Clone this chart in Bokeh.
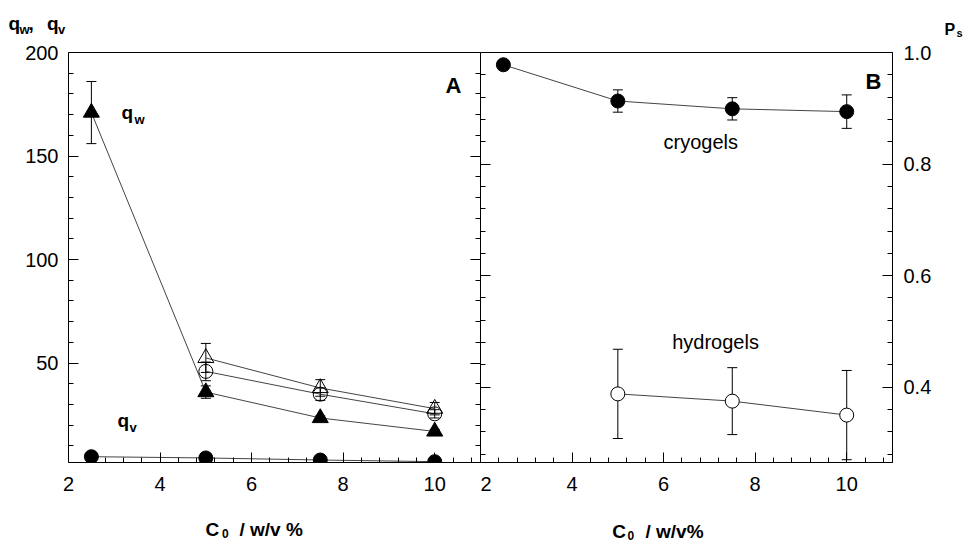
import numpy as np
from bokeh.plotting import figure
from bokeh.layouts import row, column
from bokeh.models import (Range1d, LinearAxis, FixedTicker, Whisker, TeeHead,
                          ColumnDataSource, Label, PrintfTickFormatter)
from bokeh.embed import file_html
from bokeh.resources import INLINE

# ---------------- data ----------------
x_all = [2.5, 5, 7.5, 10]
x_hi = [5, 7.5, 10]

# Panel A
qw_filled = [171, 36, 23.5, 17]
qw_filled_err = [15, 3, 1, 1]
qw_open_tri = [52.5, 38, 28]
qw_open_tri_err = [7, 4, 3]
qw_open_circ = [46, 35, 25.5]
qw_open_circ_err = [4.5, 3, 2]
qv_filled = [4.8, 4.2, 3.2, 2.4]

# Panel B
ps_cryo = [0.978, 0.913, 0.899, 0.894]
ps_cryo_err = [0.0, 0.02, 0.02, 0.03]
ps_hydro = [0.388, 0.375, 0.350]
ps_hydro_err = [0.08, 0.06, 0.08]

x_major = [2, 4, 6, 8, 10]
ya_major = [50, 100, 150, 200]
yb_major = [0.4, 0.6, 0.8, 1.0]

FONT = "Liberation Sans"
LINE = "#444444"

# ---------------- geometry (page pixels) ----------------
W = 965
XA0, XB0, FW = 68, 480, 412
FTOP, FBOT = 52, 462
FH = FBOT - FTOP
TOP_H = 40          # strip with the y-axis titles
MID_BOT = 504       # bottom of the panel row
BOT_H = 542 - MID_BOT
MID_H = MID_BOT - TOP_H

def ax(px):
    return 2 + (px - XA0) * 9 / FW

def ay(py):
    return 2 + (FBOT - py) * 198 / FH

def bx(px):
    return 2 + (px - XB0) * 9 / FW

def by(py):
    return 0.265 + (FBOT - py) * 0.735 / FH

def style_axis(a, labels=True, ticks=None):
    a.axis_line_color = "black"
    a.major_tick_line_color = "black"
    a.minor_tick_line_color = "black"
    a.major_tick_in = 10
    a.major_tick_out = 0
    a.minor_tick_in = 5
    a.minor_tick_out = 0
    if labels:
        a.major_label_text_font = FONT
        a.major_label_text_font_size = "20px"
        a.major_label_text_color = "black"
    else:
        a.major_label_overrides = {t: "" for t in ticks}
        a.major_label_standoff = 0

x_minor = [round(v, 2) for v in np.arange(2.4, 11.0, 0.4)]
ya_minor = [v for v in range(10, 200, 10) if v % 50 != 0]
yb_minor = [round(v, 2) for v in np.arange(0.28, 1.0, 0.04)]

def add_label(p, x, y, text, size, bold=True, align="left"):
    p.add_layout(Label(x=x, y=y, text=text, text_font=FONT,
                       text_font_size=size,
                       text_font_style="bold" if bold else "normal",
                       text_align=align, text_baseline="alphabetic",
                       text_color="black"))

def add_whisker(p, xs, ys, errs, cap=10):
    src = ColumnDataSource(dict(x=xs, upper=[y + e for y, e in zip(ys, errs)],
                                lower=[y - e for y, e in zip(ys, errs)]))
    w = Whisker(source=src, base="x", upper="upper", lower="lower",
                dimension="height", line_color="black", line_width=1,
                upper_head=TeeHead(size=cap, line_color="black", line_width=1),
                lower_head=TeeHead(size=cap, line_color="black", line_width=1))
    p.add_layout(w)

def strip(height, y_top_page, y_bot_page):
    s = figure(width=W, height=height, x_range=Range1d(0, W),
               y_range=Range1d(y_bot_page, y_top_page),
               x_axis_type=None, y_axis_type=None,
               output_backend="svg", toolbar_location=None,
               min_border=0, min_border_left=0, min_border_right=0,
               min_border_top=0, min_border_bottom=0)
    s.grid.grid_line_color = None
    s.outline_line_color = None
    s.background_fill_color = "white"
    s.border_fill_color = "white"
    return s

# ---------------- top strip: axis titles ----------------
top = strip(TOP_H, 0, TOP_H)
add_label(top, 8, 23, "q", "19px")
add_label(top, 19, 28.5, "w", "13px")
add_label(top, 28, 23, ",", "19px")
add_label(top, 46.5, 23, "q", "19px")
add_label(top, 57.5, 28.5, "v", "13px")
add_label(top, 944, 28.5, "P", "16px")
add_label(top, 956, 32, "s", "11px")

# ---------------- bottom strip: x-axis titles ----------------
bot = strip(BOT_H, MID_BOT, 542)
add_label(bot, 205, 528.7, "C", "19px")
add_label(bot, 221.5, 533, "0", "12px")
add_label(bot, 239, 528.7, "/  w/v %", "19px")
add_label(bot, 611.7, 530.5, "C", "19px")
add_label(bot, 627, 534.5, "0", "12px")
add_label(bot, 645, 530.5, "/  w/v%", "19px")

# ---------------- Panel A ----------------
pA = figure(width=XB0, height=MID_H, x_range=Range1d(2, 11), y_range=Range1d(2, 200),
            output_backend="svg", toolbar_location=None,
            min_border_left=XA0, min_border_right=0, min_border_top=FTOP - TOP_H,
            min_border_bottom=MID_BOT - FBOT)
pA.grid.grid_line_color = None
pA.outline_line_color = None
pA.background_fill_color = "white"
pA.border_fill_color = "white"

pA.xaxis.ticker = FixedTicker(ticks=x_major, minor_ticks=x_minor)
pA.yaxis.ticker = FixedTicker(ticks=ya_major, minor_ticks=ya_minor)
for a in pA.xaxis:
    style_axis(a)
    a.major_label_standoff = 14
for a in pA.yaxis:
    style_axis(a)
    a.major_label_standoff = 10
rA = LinearAxis(ticker=FixedTicker(ticks=ya_major, minor_ticks=ya_minor))
style_axis(rA, labels=False, ticks=ya_major)
rA.axis_line_color = None
pA.add_layout(rA, "right")
tA = LinearAxis(ticker=FixedTicker(ticks=[], minor_ticks=[]))
tA.axis_line_color = "black"
tA.major_tick_in = 0
tA.major_tick_out = 0
tA.minor_tick_in = 0
tA.minor_tick_out = 0
tA.major_label_standoff = 0
pA.add_layout(tA, "above")

add_whisker(pA, x_all, qw_filled, qw_filled_err)
add_whisker(pA, x_hi, qw_open_tri, qw_open_tri_err)
add_whisker(pA, x_hi, qw_open_circ, qw_open_circ_err)

pA.line(x_all, qw_filled, line_color=LINE, line_width=1)
pA.line(x_hi, qw_open_tri, line_color=LINE, line_width=1)
pA.line(x_hi, qw_open_circ, line_color=LINE, line_width=1)
pA.line(x_all, qv_filled, line_color=LINE, line_width=1)

pA.scatter(x_all, qw_filled, marker="triangle", size=16, fill_color="black", line_color="black")
pA.scatter(x_hi, qw_open_tri, marker="triangle", size=16, fill_color=None, line_color="black")
pA.scatter(x_hi, qw_open_circ, marker="circle", size=14, fill_color=None, line_color="black")
pA.scatter(x_all, qv_filled, marker="circle", size=14, fill_color="black", line_color="black")

add_label(pA, ax(121), ay(111.7), "q", "19px")
add_label(pA, ax(134), ay(119), "w", "13px")
add_label(pA, ax(117), ay(420), "q", "19px")
add_label(pA, ax(129), ay(427), "v", "13px")
add_label(pA, ax(453), ay(85), "A", "22px", align="center")

# ---------------- Panel B ----------------
pB = figure(width=W - XB0, height=MID_H, x_range=Range1d(2, 11), y_range=Range1d(0.265, 1.0),
            output_backend="svg", toolbar_location=None, y_axis_location="right",
            min_border_left=0, min_border_right=W - XB0 - FW, min_border_top=FTOP - TOP_H,
            min_border_bottom=MID_BOT - FBOT)
pB.grid.grid_line_color = None
pB.outline_line_color = "black"
pB.background_fill_color = "white"
pB.border_fill_color = "white"

pB.xaxis.ticker = FixedTicker(ticks=x_major, minor_ticks=x_minor)
pB.yaxis.ticker = FixedTicker(ticks=yb_major, minor_ticks=yb_minor)
pB.yaxis.formatter = PrintfTickFormatter(format="%.1f")
for a in pB.xaxis:
    style_axis(a)
    a.major_label_standoff = 14
for a in pB.yaxis:
    style_axis(a)
    a.major_label_standoff = 11
lB = LinearAxis(ticker=FixedTicker(ticks=yb_major, minor_ticks=yb_minor))
style_axis(lB, labels=False, ticks=yb_major)
lB.axis_line_color = None
pB.add_layout(lB, "left")

add_whisker(pB, x_all, ps_cryo, ps_cryo_err)
add_whisker(pB, x_hi, ps_hydro, ps_hydro_err)

pB.line(x_all, ps_cryo, line_color=LINE, line_width=1)
pB.line(x_hi, ps_hydro, line_color=LINE, line_width=1)
pB.scatter(x_all, ps_cryo, marker="circle", size=14, fill_color="black", line_color="black")
pB.scatter(x_hi, ps_hydro, marker="circle", size=14, fill_color="white", line_color="black")

add_label(pB, bx(663), by(141.7), "cryogels", "20px", bold=False)
add_label(pB, bx(671.7), by(341), "hydrogels", "20px", bold=False)
add_label(pB, bx(865), by(80.7), "B", "22px")

layout = column(top, row(pA, pB), bot)
open("out.html", "w").write(file_html(layout, INLINE))
